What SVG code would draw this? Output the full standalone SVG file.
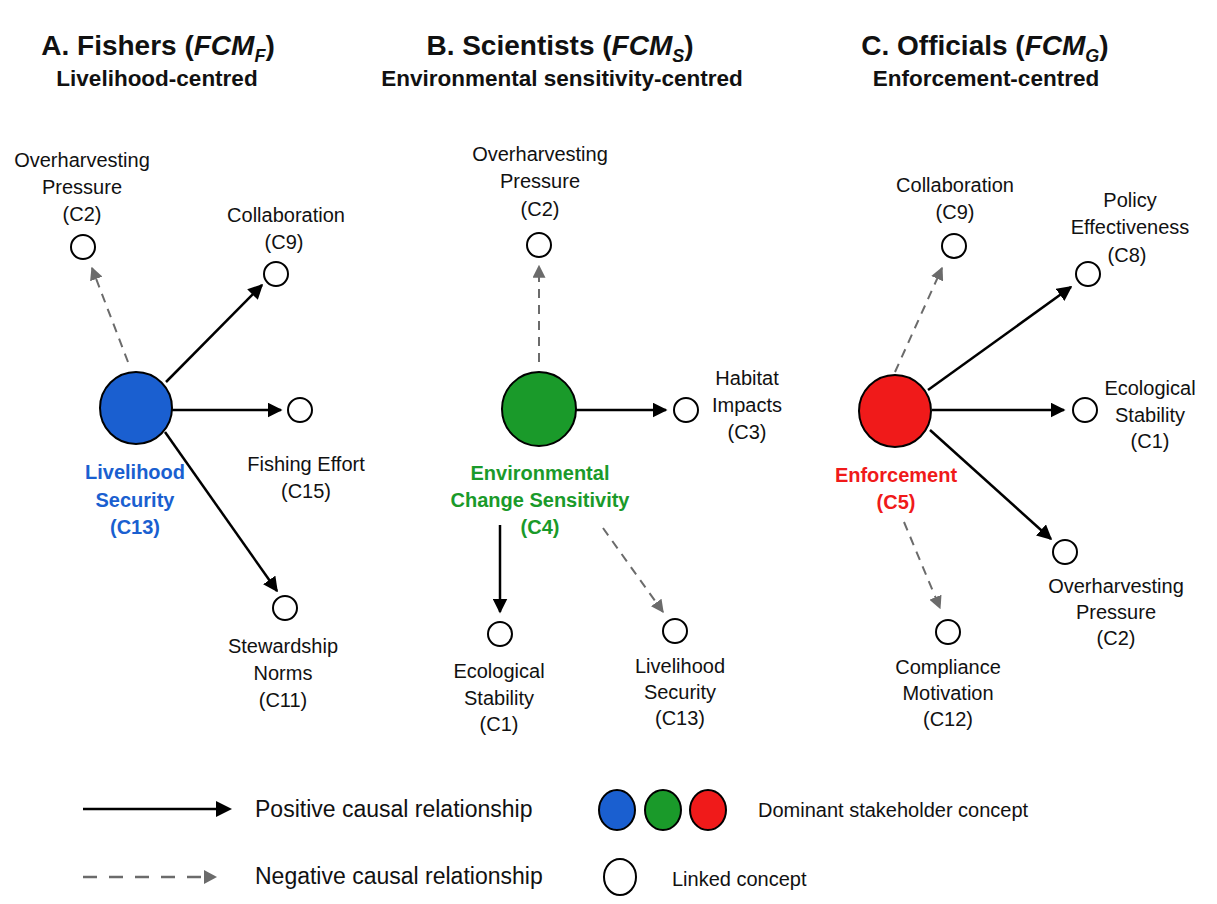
<svg xmlns="http://www.w3.org/2000/svg" width="1217" height="904" viewBox="0 0 1217 904">
<defs>
<marker id="ah" viewBox="0 0 10 10" refX="9" refY="5" markerWidth="15" markerHeight="15" markerUnits="userSpaceOnUse" orient="auto"><path d="M0,0 L10,5 L0,10 z" fill="#000"/></marker>
<marker id="ahg" viewBox="0 0 10 10" refX="9" refY="5" markerWidth="13" markerHeight="13" markerUnits="userSpaceOnUse" orient="auto"><path d="M0,0 L10,5 L0,10 z" fill="#6b6b6b"/></marker>
</defs>
<style>
text{font-family:"Liberation Sans",Arial,sans-serif;fill:#111;}
.t{font-size:28px;font-weight:bold;text-anchor:middle;}
.st{font-size:22.5px;font-weight:bold;text-anchor:middle;}
.lb{font-size:20px;text-anchor:middle;}
.hub{font-size:20px;font-weight:bold;text-anchor:middle;}
.lg{font-size:23px;}
.lg2{font-size:20px;}
.pos{stroke:#000;stroke-width:2.5;fill:none;marker-end:url(#ah);}
.neg{stroke:#6b6b6b;stroke-width:2;stroke-dasharray:9 7;fill:none;marker-end:url(#ahg);}
.node{fill:#fff;stroke:#000;stroke-width:2;}
.big{stroke:#000;stroke-width:2;}
</style>
<rect width="1217" height="904" fill="#fff"/>

<g id="titles">
<text class="t" x="158" y="55">A. Fishers (<tspan font-style="italic">FCM<tspan font-size="18" dy="7">F</tspan></tspan><tspan dy="-7">)</tspan></text>
<text class="st" x="157" y="86">Livelihood-centred</text>
<text class="t" x="560" y="55">B. Scientists (<tspan font-style="italic">FCM<tspan font-size="18" dy="7">S</tspan></tspan><tspan dy="-7">)</tspan></text>
<text class="st" x="562" y="86">Environmental sensitivity-centred</text>
<text class="t" x="985" y="55">C. Officials (<tspan font-style="italic">FCM<tspan font-size="18" dy="7">G</tspan></tspan><tspan dy="-7">)</tspan></text>
<text class="st" x="986" y="86">Enforcement-centred</text>
</g>

<g id="connectors">
<line class="neg" x1="128" y1="362" x2="92" y2="268"/>
<line class="pos" x1="166" y1="382" x2="262" y2="285"/>
<line class="pos" x1="172" y1="410" x2="281" y2="410"/>
<line class="pos" x1="165" y1="432" x2="277" y2="591"/>
<line class="neg" x1="539" y1="362" x2="539" y2="266"/>
<line class="pos" x1="576" y1="410" x2="666" y2="410"/>
<line class="pos" x1="500" y1="525" x2="500" y2="612"/>
<line class="neg" x1="603" y1="528" x2="663" y2="612"/>
<line class="neg" x1="895" y1="372" x2="942" y2="268"/>
<line class="pos" x1="928" y1="390" x2="1071" y2="287"/>
<line class="pos" x1="932" y1="410" x2="1064" y2="410"/>
<line class="pos" x1="930" y1="430" x2="1051" y2="539"/>
<line class="neg" x1="904" y1="522" x2="940" y2="608"/>
</g>

<g id="A-C13">
<circle class="big" cx="136" cy="408" r="36" fill="#1a5fd0"/>
<text class="hub" x="135" y="479" style="fill:#1a5fd0">Livelihood</text>
<text class="hub" x="135" y="507" style="fill:#1a5fd0">Security</text>
<text class="hub" x="135" y="534" style="fill:#1a5fd0">(C13)</text>
</g>
<g id="A-C2">
<circle class="node" cx="83" cy="247" r="12"/>
<text class="lb" x="82" y="167">Overharvesting</text>
<text class="lb" x="82" y="194">Pressure</text>
<text class="lb" x="82" y="221">(C2)</text>
</g>
<g id="A-C9">
<circle class="node" cx="276" cy="274" r="12"/>
<text class="lb" x="286" y="222">Collaboration</text>
<text class="lb" x="284" y="249">(C9)</text>
</g>
<g id="A-C15">
<circle class="node" cx="300" cy="410" r="12"/>
<text class="lb" x="306" y="471">Fishing Effort</text>
<text class="lb" x="306" y="498">(C15)</text>
</g>
<g id="A-C11">
<circle class="node" cx="285" cy="608" r="12"/>
<text class="lb" x="283" y="653">Stewardship</text>
<text class="lb" x="283" y="680">Norms</text>
<text class="lb" x="283" y="707">(C11)</text>
</g>

<g id="B-C4">
<circle class="big" cx="539" cy="409" r="37" fill="#1a9a2a"/>
<text class="hub" x="540" y="480" style="fill:#1a9a2a">Environmental</text>
<text class="hub" x="540" y="507" style="fill:#1a9a2a">Change Sensitivity</text>
<text class="hub" x="540" y="534" style="fill:#1a9a2a">(C4)</text>
</g>
<g id="B-C2">
<circle class="node" cx="539" cy="245" r="12"/>
<text class="lb" x="540" y="161">Overharvesting</text>
<text class="lb" x="540" y="188">Pressure</text>
<text class="lb" x="540" y="216">(C2)</text>
</g>
<g id="B-C3">
<circle class="node" cx="686" cy="410" r="12"/>
<text class="lb" x="747" y="385">Habitat</text>
<text class="lb" x="747" y="412">Impacts</text>
<text class="lb" x="747" y="439">(C3)</text>
</g>
<g id="B-C1">
<circle class="node" cx="500" cy="634" r="12"/>
<text class="lb" x="499" y="678">Ecological</text>
<text class="lb" x="499" y="705">Stability</text>
<text class="lb" x="499" y="731">(C1)</text>
</g>
<g id="B-C13">
<circle class="node" cx="675" cy="631" r="12"/>
<text class="lb" x="680" y="673">Livelihood</text>
<text class="lb" x="680" y="699">Security</text>
<text class="lb" x="680" y="725">(C13)</text>
</g>

<g id="C-C5">
<circle class="big" cx="895" cy="411" r="36" fill="#f01a1a"/>
<text class="hub" x="896" y="482" style="fill:#f01a1a">Enforcement</text>
<text class="hub" x="896" y="509" style="fill:#f01a1a">(C5)</text>
</g>
<g id="C-C9">
<circle class="node" cx="954" cy="246" r="12"/>
<text class="lb" x="955" y="192">Collaboration</text>
<text class="lb" x="955" y="219">(C9)</text>
</g>
<g id="C-C8">
<circle class="node" cx="1088" cy="274" r="12"/>
<text class="lb" x="1130" y="207">Policy</text>
<text class="lb" x="1130" y="234">Effectiveness</text>
<text class="lb" x="1127" y="262">(C8)</text>
</g>
<g id="C-C1">
<circle class="node" cx="1085" cy="410" r="12"/>
<text class="lb" x="1150" y="395">Ecological</text>
<text class="lb" x="1150" y="422">Stability</text>
<text class="lb" x="1150" y="448">(C1)</text>
</g>
<g id="C-C2">
<circle class="node" cx="1065" cy="552" r="12"/>
<text class="lb" x="1116" y="593">Overharvesting</text>
<text class="lb" x="1116" y="619">Pressure</text>
<text class="lb" x="1116" y="645">(C2)</text>
</g>
<g id="C-C12">
<circle class="node" cx="948" cy="632" r="12"/>
<text class="lb" x="948" y="674">Compliance</text>
<text class="lb" x="948" y="700">Motivation</text>
<text class="lb" x="948" y="726">(C12)</text>
</g>

<g id="legend">
<line x1="83" y1="809" x2="218" y2="809" stroke="#000" stroke-width="2.5"/>
<path d="M216,801 L232,809 L216,817 z" fill="#000"/>
<line x1="83" y1="877" x2="202" y2="877" stroke="#6b6b6b" stroke-width="2.5" stroke-dasharray="14 12"/>
<path d="M204,870 L217,877 L204,884 z" fill="#6b6b6b"/>
<text class="lg" x="255" y="817">Positive causal relationship</text>
<text class="lg" x="255" y="884">Negative causal relationship</text>
<ellipse class="big" cx="617" cy="810" rx="18" ry="20" fill="#1a5fd0"/>
<ellipse class="big" cx="663" cy="810" rx="18" ry="20" fill="#1a9a2a"/>
<ellipse class="big" cx="708" cy="810" rx="18" ry="20" fill="#f01a1a"/>
<text class="lg2" x="758" y="817">Dominant stakeholder concept</text>
<ellipse class="node" cx="620" cy="877" rx="16" ry="18"/>
<text class="lg2" x="672" y="886">Linked concept</text>
</g>
</svg>
